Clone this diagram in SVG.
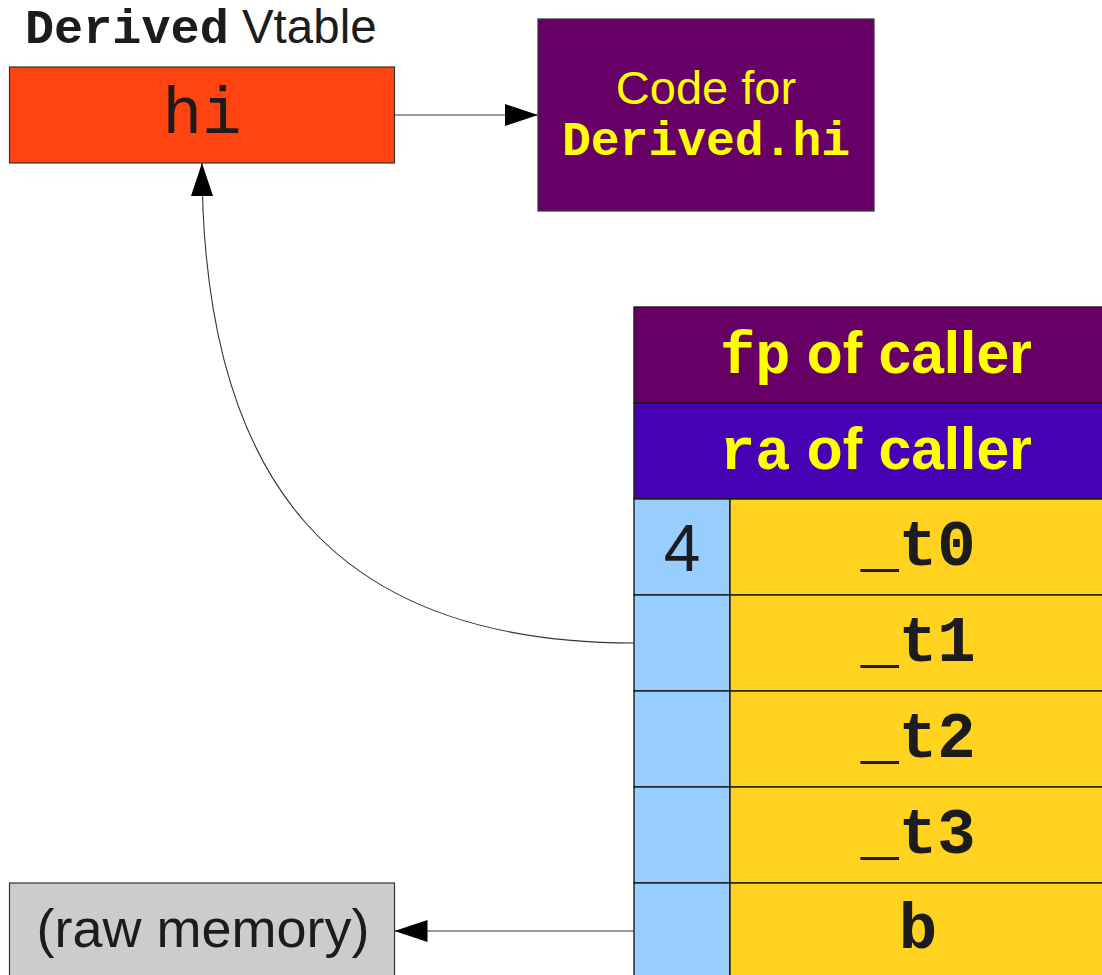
<svg xmlns="http://www.w3.org/2000/svg" width="1102" height="975" viewBox="0 0 1102 975">
<style>
.box{stroke:#333;stroke-width:1.2}
.cell{stroke:#1a1a1a;stroke-width:1.4}
.mono{font-family:"Liberation Mono","DejaVu Sans Mono",monospace}
.sans{font-family:"Liberation Sans",Arial,sans-serif}
.b{font-weight:bold}
.dark{fill:#1c1c1c}
.yel{fill:#ffff00}
.conn{fill:none;stroke:#333;stroke-width:1.1}
</style>
<defs>
<marker id="arr" markerUnits="userSpaceOnUse" markerWidth="34" markerHeight="23" refX="33" refY="11" orient="auto">
<path d="M0,0 L33,11 L0,22 z" fill="#000"/>
</marker>
</defs>
<rect width="1102" height="975" fill="#fff"/>
<g id="heading">
<text x="25" y="43" class="dark"><tspan class="mono b" font-size="48.5">Derived</tspan><tspan class="sans" font-size="47.5"> Vtable</tspan></text>
</g>
<g id="vtable-hi">
<rect class="box" x="9.5" y="67" width="385" height="96" fill="#ff4411"/>
<text x="202" y="133" text-anchor="middle" class="mono dark" font-size="66">hi</text>
</g>
<g id="code">
<rect class="box" x="538" y="19" width="336" height="192" fill="#660066"/>
<text x="706" y="104" text-anchor="middle" class="sans yel" font-size="47">Code for</text>
<text x="706" y="155" text-anchor="middle" class="mono b yel" font-size="48">Derived.hi</text>
</g>
<g id="raw-memory">
<rect class="box" x="9.5" y="883" width="385" height="100" fill="#cccccc"/>
<text x="203" y="947" text-anchor="middle" class="sans dark" font-size="54">(raw memory)</text>
</g>
<g id="stack">
<g id="fp-row">
<rect class="cell" x="634" y="307" width="484" height="96" fill="#660066"/>
<text x="876" y="373" text-anchor="middle" class="yel b" font-size="58.7"><tspan class="mono">fp</tspan><tspan class="sans"> of caller</tspan></text>
</g>
<g id="ra-row">
<rect class="cell" x="634" y="403" width="484" height="96" fill="#4800b5"/>
<text x="876" y="469" text-anchor="middle" class="yel b" font-size="58.7"><tspan class="mono">ra</tspan><tspan class="sans"> of caller</tspan></text>
</g>
<g id="t0-row">
<rect class="cell" x="634" y="499" width="96" height="96" fill="#99ccff"/>
<rect class="cell" x="730" y="499" width="388" height="96" fill="#ffd320"/>
<text x="682" y="571" text-anchor="middle" class="sans dark" font-size="66">4</text>
<text x="918" y="565" text-anchor="middle" class="mono b dark" font-size="64">_t0</text>
</g>
<g id="t1-row">
<rect class="cell" x="634" y="595" width="96" height="96" fill="#99ccff"/>
<rect class="cell" x="730" y="595" width="388" height="96" fill="#ffd320"/>
<text x="918" y="661" text-anchor="middle" class="mono b dark" font-size="64">_t1</text>
</g>
<g id="t2-row">
<rect class="cell" x="634" y="691" width="96" height="96" fill="#99ccff"/>
<rect class="cell" x="730" y="691" width="388" height="96" fill="#ffd320"/>
<text x="918" y="757" text-anchor="middle" class="mono b dark" font-size="64">_t2</text>
</g>
<g id="t3-row">
<rect class="cell" x="634" y="787" width="96" height="96" fill="#99ccff"/>
<rect class="cell" x="730" y="787" width="388" height="96" fill="#ffd320"/>
<text x="918" y="853" text-anchor="middle" class="mono b dark" font-size="64">_t3</text>
</g>
<g id="b-row">
<rect class="cell" x="634" y="883" width="96" height="100" fill="#99ccff"/>
<rect class="cell" x="730" y="883" width="388" height="100" fill="#ffd320"/>
<text x="918" y="948" text-anchor="middle" class="mono b dark" font-size="64">b</text>
</g>
</g>
<g id="connectors">
<path class="conn" d="M394.5,115 L538,115" marker-end="url(#arr)"/>
<path class="conn" d="M634,643 C340,643 202,489 202,163" marker-end="url(#arr)"/>
<path class="conn" d="M634,931 L394.5,931" marker-end="url(#arr)"/>
</g>
</svg>
